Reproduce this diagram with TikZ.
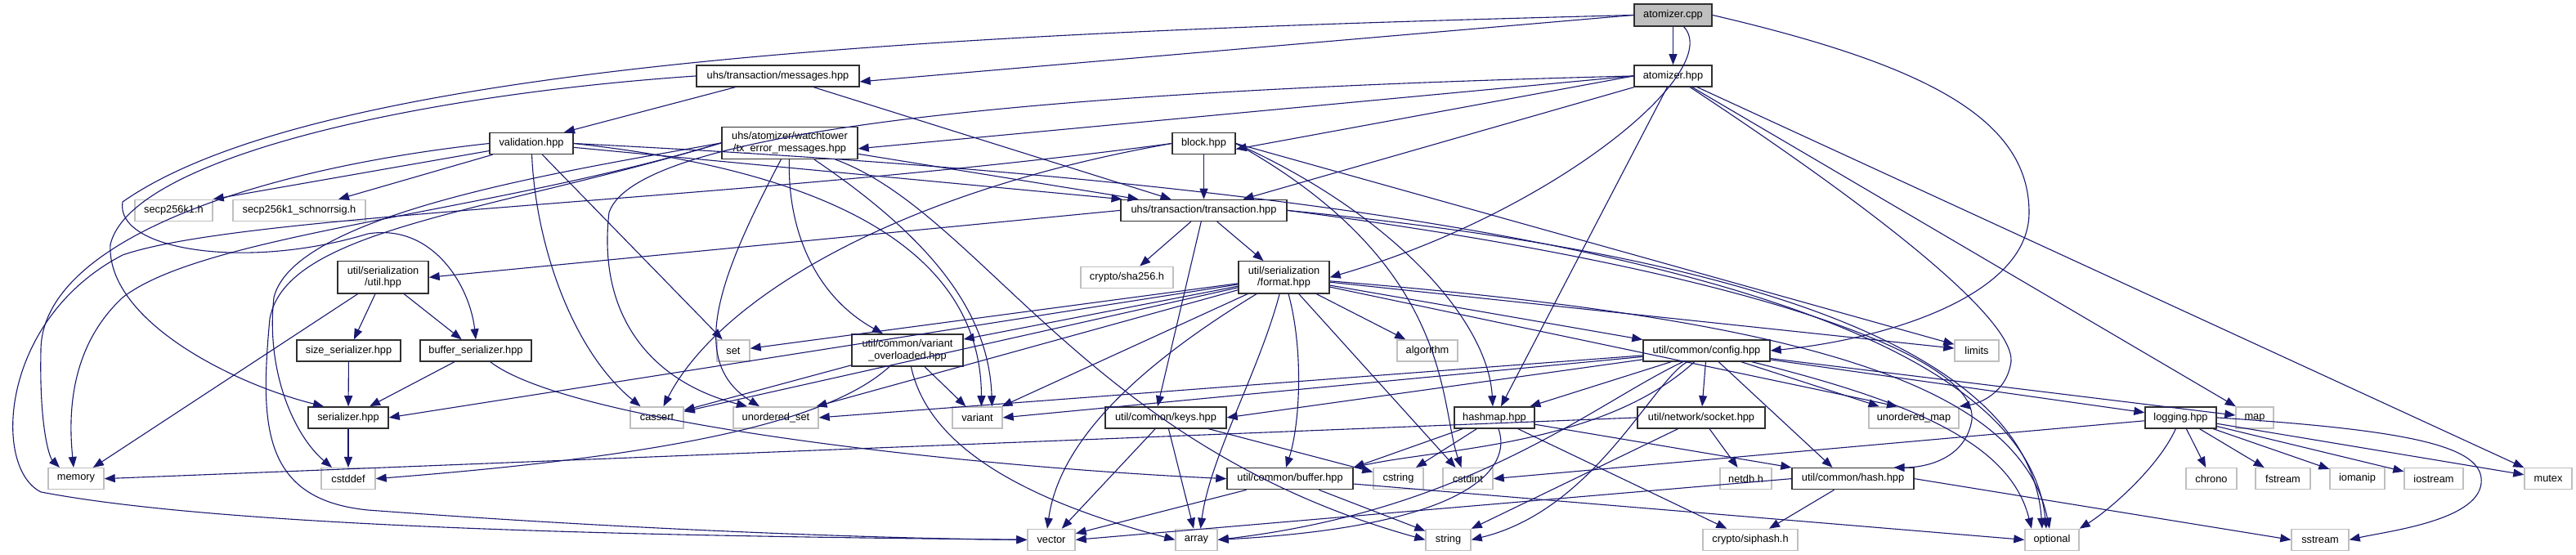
\documentclass[tikz,border=0pt]{standalone}
\usepackage{fontspec}
\setmainfont{Liberation Sans}
\usetikzlibrary{arrows.meta}
\definecolor{edgec}{HTML}{191970}
\definecolor{sysc}{HTML}{BFBFBF}
\definecolor{docc}{HTML}{303030}
\begin{document}
\begin{tikzpicture}[x=1pt,y=-1.3pt,
  font=\fontsize{12.8}{14.7}\selectfont,
  box/.style={rectangle, inner sep=0pt, line width=1.4pt, text=black, align=center, minimum height=26pt},
  doc/.style={box, draw=docc},
  sys/.style={box, draw=sysc},
  root/.style={box, draw=docc, fill=sysc},
  two/.style={minimum height=39pt},
  e/.style={draw=edgec, line width=1.1pt, -{Triangle[length=13pt,width=10pt]}}]
\useasboundingbox[fill=white] (0,0) rectangle (3151,522.3);

% ---- nodes ----
\node[root, minimum width=95pt, minimum height=27pt] (cpp) at (2046.5,14.2) {atomizer.cpp};
\node[doc, minimum width=95pt] (ahpp) at (2046.5,71.5) {atomizer.hpp};
\node[doc, minimum width=199pt] (msg) at (951.5,71.5) {uhs/transaction/messages.hpp};
\node[doc, two, minimum width=166pt] (txerr) at (966,134.5) {uhs/atomizer/watchtower\\/tx\_error\_messages.hpp};
\node[doc, minimum width=102pt] (valid) at (650,135) {validation.hpp};
\node[doc, minimum width=77pt] (block) at (1472.5,135) {block.hpp};
\node[sys, minimum width=95pt] (secp) at (212.5,198) {secp256k1.h};
\node[sys, minimum width=162pt] (schnorr) at (366,198) {secp256k1\_schnorrsig.h};
\node[doc, minimum width=203pt] (trans) at (1472.5,198) {uhs/transaction/transaction.hpp};
\node[doc, two, minimum width=111pt] (sutil) at (468.5,261) {util/serialization\\/util.hpp};
\node[sys, minimum width=113pt] (sha) at (1378.5,261) {crypto/sha256.h};
\node[doc, two, minimum width=111pt] (fmt) at (1570.5,261) {util/serialization\\/format.hpp};
\node[doc, minimum width=127pt] (sizeser) at (426.5,330) {size\_serializer.hpp};
\node[doc, minimum width=136pt] (bufser) at (582,330) {buffer\_serializer.hpp};
\node[sys, minimum width=40pt] (set) at (897,330) {set};
\node[doc, two, minimum width=136pt] (varov) at (1110,329.5) {util/common/variant\\\_overloaded.hpp};
\node[sys, minimum width=74pt] (algo) at (1746,330) {algorithm};
\node[doc, minimum width=155pt] (cfg) at (2087.5,330) {util/common/config.hpp};
\node[sys, minimum width=54pt] (limits) at (2418,330) {limits};
\node[doc, minimum width=98pt] (ser) at (426,393) {serializer.hpp};
\node[sys, minimum width=65pt] (cassert) at (803.5,393) {cassert};
\node[sys, minimum width=104pt] (uset) at (949,393) {unordered\_set};
\node[sys, minimum width=61pt] (variant) at (1195.5,393) {variant};
\node[doc, minimum width=148pt] (keys) at (1426,393) {util/common/keys.hpp};
\node[doc, minimum width=98pt] (hashmap) at (1828,393) {hashmap.hpp};
\node[doc, minimum width=156pt] (socket) at (2081,393) {util/network/socket.hpp};
\node[sys, minimum width=110pt] (umap) at (2341,393) {unordered\_map};
\node[doc, minimum width=87pt] (logging) at (2667.5,393) {logging.hpp};
\node[sys, minimum width=46pt] (map) at (2758,393) {map};
\node[sys, minimum width=68pt] (memory) at (93,450.5) {memory};
\node[sys, minimum width=66pt] (cstddef) at (426,450.5) {cstddef};
\node[doc, minimum width=154pt] (buffer) at (1578,450.5) {util/common/buffer.hpp};
\node[sys, minimum width=61pt] (cstring) at (1710.5,450.5) {cstring};
\node[sys, minimum width=61pt] (cstdint) at (1795.5,450.5) {cstdint};
\node[sys, minimum width=63pt] (netdb) at (2135.5,450.5) {netdb.h};
\node[doc, minimum width=149pt] (hash) at (2266.5,450.5) {util/common/hash.hpp};
\node[sys, minimum width=62pt] (chrono) at (2705,450.5) {chrono};
\node[sys, minimum width=67pt] (fstream) at (2792.5,450.5) {fstream};
\node[sys, minimum width=67pt] (iomanip) at (2883.5,450.5) {iomanip};
\node[sys, minimum width=72pt] (iostream) at (2977,450.5) {iostream};
\node[sys, minimum width=58pt] (mutex) at (3117,450.5) {mutex};
\node[sys, minimum width=58pt] (vector) at (1286,508) {vector};
\node[sys, minimum width=51pt] (array) at (1463.5,508) {array};
\node[sys, minimum width=55pt] (string) at (1771.5,508) {string};
\node[sys, minimum width=116pt] (siphash) at (2141,508) {crypto/siphash.h};
\node[sys, minimum width=66pt] (optional) at (2510,508) {optional};
\node[sys, minimum width=70pt] (sstream) at (2838,508) {sstream};

% ---- edges ----
% atomizer.cpp
\draw[e] (cpp) -- (ahpp);
\draw[e] (cpp.west) -- ([yshift=-7pt]msg.east);
\draw[e] (cpp) .. controls (2110,67) and (1900,200) .. (fmt.east);
\draw[e] (cpp.east) .. controls (2350,60) and (2482,110) .. (2482,200) .. controls (2482,280) and (2300,320) .. (cfg.east);
\draw[e] (cpp.west) .. controls (1200,30) and (400,55) .. (150,190) .. controls (140,235) and (300,255) .. (450,220) .. controls (530,210) and (575,270) .. (bufser.north);
% atomizer.hpp
\draw[e] (ahpp.west) -- ([yshift=-7pt]txerr.east);
\draw[e] (ahpp.west) -- ([yshift=-7pt]block.east);
\draw[e] (ahpp) -- ([xshift=48pt]trans.north);
\draw[e] (ahpp) -- ([xshift=8pt]hashmap.north);
\draw[e] (ahpp.west) .. controls (1300,85) and (780,120) .. (745,200) .. controls (730,300) and (800,360) .. ([xshift=-35pt]uset.north);
\draw[e] (ahpp) .. controls (2300,200) and (2463,300) .. (2460,340) .. controls (2455,370) and (2420,380) .. (umap.north east);
\draw[e] (ahpp) -- (map);
\draw[e] (ahpp) -- (mutex);
% messages
\draw[e] (msg) -- ([xshift=-40pt]trans.north);
\draw[e] (msg) -- ([xshift=40pt]valid.north);
\draw[e] (msg.west) .. controls (500,90) and (160,150) .. (135,230) .. controls (130,300) and (280,360) .. ([xshift=-30pt]ser.north);
% validation
\draw[e] (valid) -- ([xshift=-100pt]trans.north);
\draw[e] (valid.west) .. controls (300,160) and (50,230) .. (50,330) .. controls (48,400) and (60,430) .. ([xshift=-20pt]memory.north);
\draw[e] (valid) -- (secp.north east);
\draw[e] (valid) -- ([xshift=48pt]schnorr.north);
\draw[e] (valid) .. controls (655,230) and (700,330) .. ([xshift=-20pt]cassert.north);
\draw[e] (valid) -- (set);
\draw[e] (valid.east) .. controls (1000,160) and (1200,230) .. ([xshift=5pt]variant.north);
\draw[e] (valid.east) .. controls (1600,170) and (2470,250) .. ([xshift=-7pt]optional.north);
% tx_error_messages
\draw[e] (txerr) -- ([xshift=-80pt]trans.north);
\draw[e] (txerr) .. controls (963,220) and (1000,280) .. ([xshift=-30pt]varov.north);
\draw[e] (txerr) .. controls (880,260) and (840,340) .. ([xshift=-20pt]uset.north);
\draw[e] (txerr) .. controls (1150,230) and (1210,300) .. ([xshift=18pt]variant.north);
\draw[e] (txerr) .. controls (1200,200) and (1330,420) .. (string.west);
\draw[e] (txerr.west) .. controls (600,200) and (250,220) .. (150,280) .. controls (80,330) and (85,400) .. ([xshift=-3pt]memory.north);
\draw[e] (txerr.west) .. controls (700,160) and (360,200) .. (335,280) .. controls (325,350) and (360,410) .. ([xshift=-20pt]cstddef.north);
\draw[e] (txerr.west) .. controls (600,200) and (350,215) .. (330,300) .. controls (318,400) and (320,470) .. (450,480) .. controls (800,500) and (1100,507) .. (vector.west);
% block
\draw[e] (block) -- (trans);
\draw[e] (block.west) .. controls (1100,180) and (880,280) .. ([xshift=8pt]cassert.north);
\draw[e] (block.east) .. controls (1700,200) and (1820,300) .. ([xshift=-2pt]hashmap.north);
\draw[e] (block.east) -- (limits);
\draw[e] (block.east) .. controls (1780,250) and (1760,380) .. ([xshift=-8pt]cstdint.north);
\draw[e] (block.west) .. controls (900,190) and (300,200) .. (150,240) .. controls (0,300) and (-10,440) .. (50,463) .. controls (300,500) and (900,505) .. (vector.west);
% transaction
\draw[e] (trans.west) -- (sutil.east);
\draw[e] (trans) -- (sha);
\draw[e] (trans) -- ([xshift=-25pt]fmt.north);
\draw[e] (trans) -- ([xshift=-10pt]keys.north);
\draw[e] (trans.east) .. controls (2100,250) and (2420,330) .. (2412,395) .. controls (2405,430) and (2360,440) .. ([xshift=50pt]hash.north);
\draw[e] (trans.east) .. controls (2000,230) and (2480,300) .. ([xshift=-12pt]optional.north);
% serialization/util
\draw[e] (sutil) -- (sizeser);
\draw[e] (sutil) -- (bufser);
\draw[e] (sutil) -- (memory);
\draw[e] (sizeser) -- (ser);
\draw[e] (bufser) -- (ser);
\draw[e] (bufser) .. controls (700,400) and (1200,440) .. (buffer.west);
\draw[e] (ser) -- (cstddef);
% format
\draw[e] (fmt) -- (ser.east);
\draw[e] (fmt) -- (set);
\draw[e] (fmt) -- (varov);
\draw[e] (fmt) -- (cassert);
\draw[e] (fmt) -- (uset);
\draw[e] (fmt) -- (variant);
\draw[e] (fmt) .. controls (1380,350) and (1295,420) .. ([xshift=-5pt]vector.north);
\draw[e] (fmt) .. controls (1540,350) and (1480,430) .. ([xshift=5pt]array.north);
\draw[e] (fmt) .. controls (1595,330) and (1590,400) .. ([xshift=-5pt]buffer.north);
\draw[e] (fmt) -- ([xshift=-15pt]cstdint.north);
\draw[e] (fmt) -- (algo);
\draw[e] (fmt) -- (cfg);
\draw[e] (fmt) -- (limits);
\draw[e] (fmt) -- ([xshift=-20pt]umap.north);
\draw[e] (fmt) .. controls (2200,300) and (2470,360) .. ([xshift=-3pt]optional.north);
% variant_overloaded
\draw[e] (varov) -- (cassert);
\draw[e] (varov) -- (variant);
\draw[e] (varov) .. controls (1010,400) and (800,430) .. (cstddef.east);
\draw[e] (varov) .. controls (1130,400) and (1200,460) .. (array.west);
% config
\draw[e] (cfg) -- (hashmap);
\draw[e] (cfg) -- (socket);
\draw[e] (cfg) -- ([xshift=-25pt]hash.north);
\draw[e] (cfg) -- (umap);
\draw[e] (cfg) -- (map);
\draw[e] (cfg) -- (logging);
\draw[e] (cfg) .. controls (2350,380) and (2460,420) .. ([xshift=-25pt]optional.north);
\draw[e] (cfg) .. controls (2020,360) and (1950,480) .. (string.east);
\draw[e] (cfg) .. controls (1950,380) and (1800,480) .. (array.east);
\draw[e] (cfg) -- (uset.east);
\draw[e] (cfg) -- (variant.east);
\draw[e] (cfg) -- (keys.east);
\draw[e] (cfg) .. controls (1960,420) and (1760,422) .. (buffer.north east);
% hashmap
\draw[e] (hashmap) -- (buffer.north east);
\draw[e] (hashmap) -- (cstring);
\draw[e] (hashmap) .. controls (1850,440) and (1800,495) .. (array.east);
\draw[e] (hashmap) -- (hash.north west);
\draw[e] (hashmap) -- (siphash);
% keys
\draw[e] (keys) -- (vector);
\draw[e] (keys) -- (array);
\draw[e] (keys) -- (cstring);
% buffer
\draw[e] (buffer) -- (vector);
\draw[e] (buffer) -- (string);
\draw[e] (buffer) -- (optional.west);
% socket
\draw[e] (socket) -- (netdb);
\draw[e] (socket) -- (string);
\draw[e] (socket.west) -- (memory.east);
% hash
\draw[e] (hash) -- (siphash);
\draw[e] (hash.west) -- (vector.east);
\draw[e] (hash.east) -- (sstream.west);
% logging
\draw[e] (logging) -- (cstdint.east);
\draw[e] (logging) .. controls (2640,440) and (2580,480) .. (optional.north east);
\draw[e] (logging) -- (chrono);
\draw[e] (logging) -- (fstream);
\draw[e] (logging) -- (iomanip);
\draw[e] (logging) -- (iostream);
\draw[e] (logging) -- (mutex);
\draw[e] (logging.east) .. controls (2950,405) and (3040,420) .. (3035,455) .. controls (3030,490) and (2920,500) .. (sstream.east);
\end{tikzpicture}
\end{document}
